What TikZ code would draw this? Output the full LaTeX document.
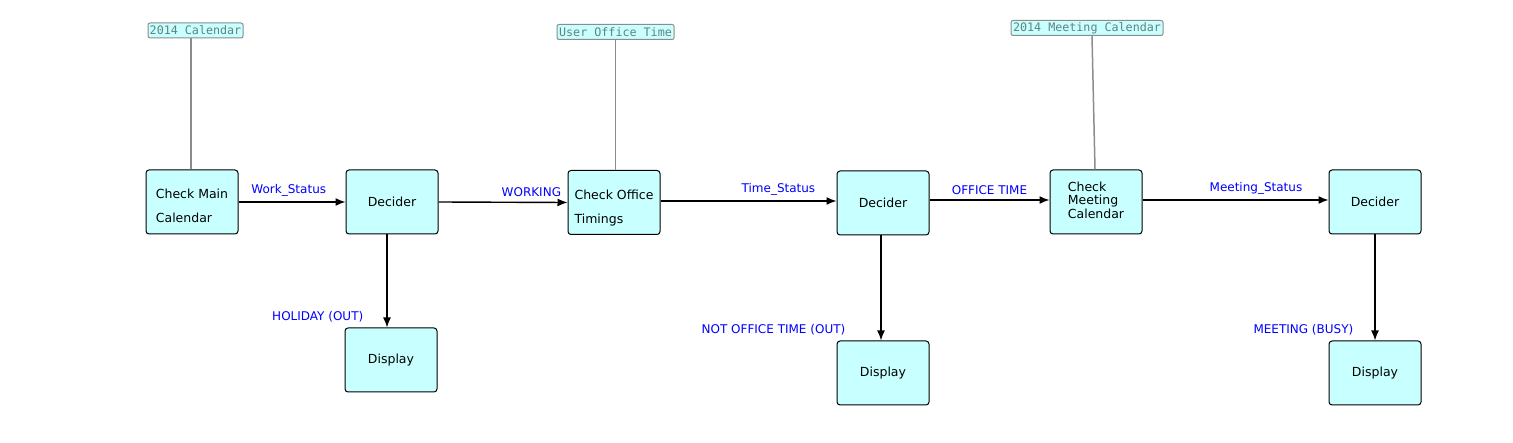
\documentclass[tikz,border=0pt]{standalone}
\usepackage{fontspec}
\setmainfont{DejaVu Sans}
\newfontfamily\monofont{DejaVu Sans Mono}
\usetikzlibrary{arrows.meta}
\definecolor{boxfill}{HTML}{C8FFFF}
\definecolor{tagtext}{HTML}{668080}
\definecolor{tagline}{HTML}{8C8C8C}
\definecolor{lblblue}{HTML}{0000FF}
\begin{document}
\begin{tikzpicture}[x=1pt,y=-1pt,
  procbox/.style={draw=black, line width=1pt, fill=boxfill, rounded corners=3pt,
    minimum width=92pt, minimum height=64pt, inner sep=0pt, align=left,
    font=\fontsize{12.5}{14}\selectfont},
  tagbox/.style={draw=tagline, line width=1pt, fill=boxfill, rounded corners=2pt,
    inner xsep=1.5pt, inner ysep=0pt, minimum height=15pt, text=tagtext,
    font=\monofont\fontsize{11.7}{13}\selectfont},
  tagwire/.style={draw=tagline, line width=1.5pt},
  flow/.style={draw=black, line width=1.4pt, -{Latex[length=10pt,width=8pt]}},
  lbl/.style={text=lblblue, font=\fontsize{12}{13}\selectfont, inner sep=1pt},
  hlbl/.style={lbl, above, yshift=4pt}
]
\useasboundingbox (0,0) rectangle (1513,443);

% process boxes
\node[procbox] (main) at (192,202) {\raisebox{-4pt}[\height][\depth]{\fontsize{12.5}{24}\selectfont\begin{tabular}{@{}l@{}}Check Main\\Calendar\end{tabular}}};
\node[procbox] (dec1) at (392,202) {Decider};
\node[procbox] (office) at (614,202.5) {\raisebox{-4pt}[\height][\depth]{\fontsize{12.5}{24}\selectfont\begin{tabular}{@{}l@{}}Check Office\\Timings\end{tabular}}};
\node[procbox] (dec2) at (883,203) {Decider};
\node[procbox] (meet) at (1096,202) {\fontsize{12.5}{12}\selectfont\begin{tabular}{@{}l@{}}Check\\Meeting\\Calendar\end{tabular}};
\node[procbox] (dec3) at (1375,202) {Decider};
\node[procbox] (disp1) at (391,360) {Display};
\node[procbox] (disp2) at (883,373) {Display};
\node[procbox] (disp3) at (1375,373) {Display};

% data tags
\node[tagbox, minimum width=95pt] (cal1) at (195.5,30.5) {2014 Calendar};
\node[tagbox, minimum width=117pt] (cal2) at (615.5,32) {User Office Time};
\node[tagbox, minimum width=152pt] (cal3) at (1087,28) {2014 Meeting Calendar};

% tag wires
\draw[tagwire] ([xshift=-1pt]main.north) -- ([xshift=-1pt]main.north |- cal1.south);
\draw[tagwire] (cal2.south) -- (cal2.south |- office.north);
\draw[tagwire] ([xshift=5pt]cal3.south) -- ([xshift=-1pt]meet.north);

% main flow
\draw[flow] (main.east) -- node[hlbl, pos=0.47] {Work\_Status} (dec1.west);
\draw[flow] (dec1.east) -- node[hlbl, pos=0.72] {WORKING} (office.west);
\draw[flow] ([yshift=1.5pt]office.east) -- node[hlbl, pos=0.67] {Time\_Status} ([yshift=1.5pt]office.east -| dec2.west);
\draw[flow] ([yshift=3pt]dec2.east) -- node[hlbl, pos=0.5] {OFFICE TIME} ([yshift=3pt]dec2.east -| meet.west);
\draw[flow] ([yshift=2pt]meet.east) -- node[hlbl, pos=0.61] {Meeting\_Status} ([yshift=2pt]meet.east -| dec3.west);

% outputs
\draw[flow] ([xshift=-5pt]dec1.south) -- node[lbl, pos=1, anchor=east, xshift=-22pt, yshift=11pt] {HOLIDAY (OUT)} ([xshift=-5pt]dec1.south |- disp1.north);
\draw[flow] ([xshift=-2pt]dec2.south) -- node[lbl, pos=1, anchor=east, xshift=-34pt, yshift=11pt] {NOT OFFICE TIME (OUT)} ([xshift=-2pt]dec2.south |- disp2.north);
\draw[flow] (dec3.south) -- node[lbl, pos=1, anchor=east, xshift=-20pt, yshift=11pt] {MEETING (BUSY)} (disp3.north);
\end{tikzpicture}
\end{document}
